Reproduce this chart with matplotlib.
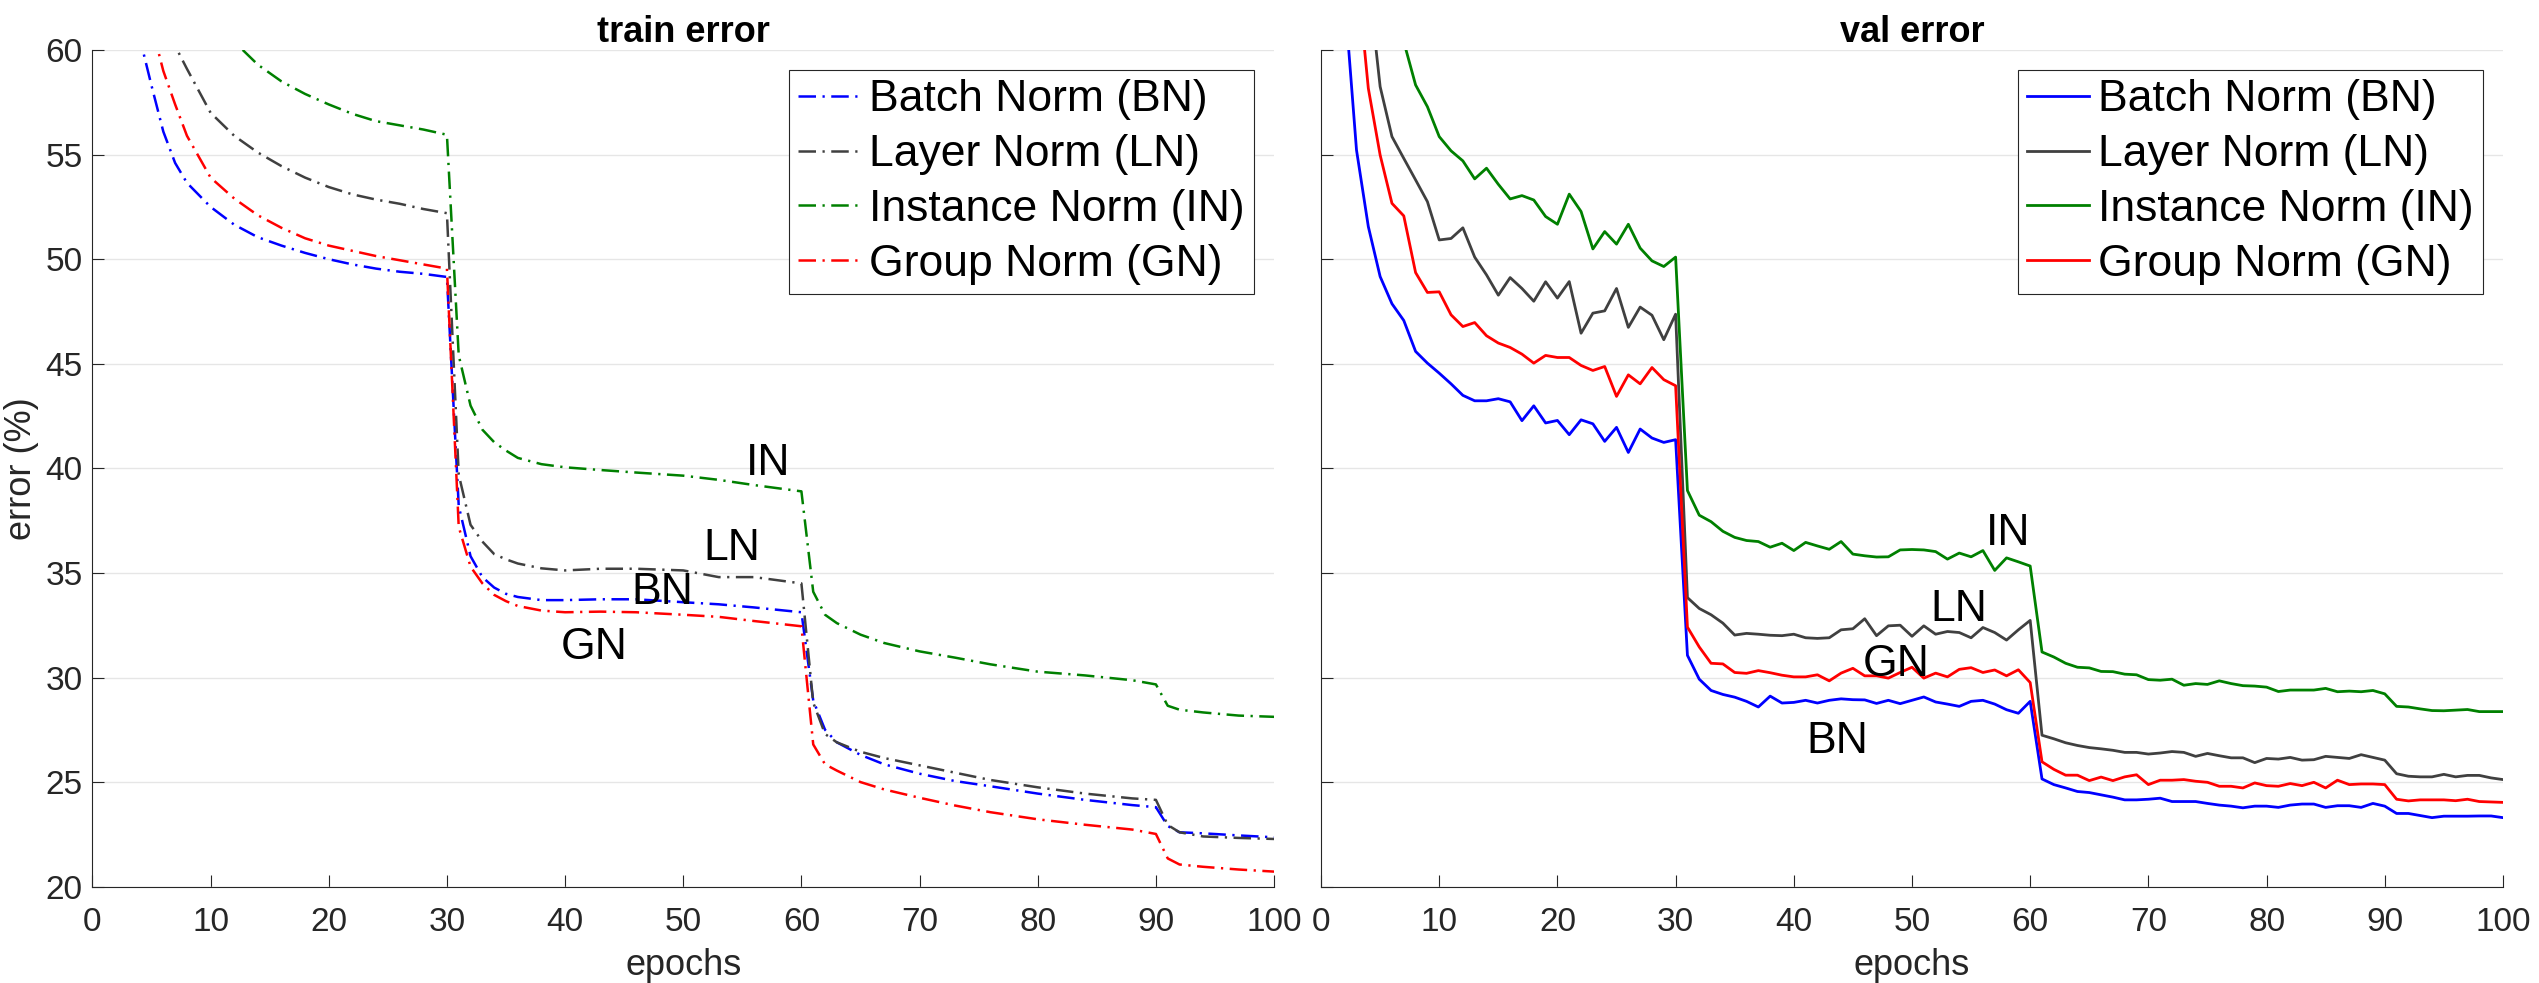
import matplotlib.pyplot as plt

plt.rcParams['font.family'] = ['Liberation Sans', 'DejaVu Sans']

names = ['Batch Norm (BN)', 'Layer Norm (LN)', 'Instance Norm (IN)', 'Group Norm (GN)']
colors = ['#0000ff', '#404040', '#008000', '#ff0000']

# train error at these epochs
train_epochs = [1, 2, 3, 4, 5, 6, 7, 8, 10, 12, 14, 16, 18, 20, 22, 24, 26, 28, 30,
                31, 32, 33, 34, 35, 36, 38, 40, 43, 46, 50, 53, 56, 60,
                61, 62, 63, 65, 67, 70, 73, 76, 80, 84, 88, 90, 91, 92, 94, 97, 100]
train_bn = [74, 68, 63.5, 60.6, 58.3, 56.1, 54.6, 53.65, 52.5, 51.65, 51.05, 50.65, 50.3, 50.0,
            49.75, 49.55, 49.4, 49.3, 49.15,
            38.2, 35.8, 34.8, 34.3, 34.0, 33.85, 33.7, 33.7, 33.74, 33.74, 33.6, 33.5, 33.35, 33.12,
            28.9, 27.5, 26.9, 26.3, 25.85, 25.4, 25.05, 24.8, 24.45, 24.15, 23.9, 23.8,
            22.9, 22.6, 22.55, 22.45, 22.36]
train_ln = [80, 75, 70.5, 67, 64.5, 62, 60.2, 59.1, 57.0, 55.9, 55.1, 54.45, 53.9, 53.45,
            53.1, 52.85, 52.65, 52.4, 52.2,
            39.7, 37.3, 36.5, 35.9, 35.65, 35.45, 35.22, 35.12, 35.2, 35.2, 35.12, 34.8, 34.8, 34.5,
            28.8, 27.3, 26.9, 26.45, 26.15, 25.8, 25.45, 25.1, 24.75, 24.45, 24.22, 24.15,
            22.95, 22.6, 22.4, 22.33, 22.28]
train_in = [85, 80, 76, 72.5, 69.5, 67, 65, 63.5, 61.8, 60.4, 59.3, 58.5, 57.9, 57.4,
            56.95, 56.6, 56.4, 56.2, 55.95,
            45.4, 43.0, 41.85, 41.25, 40.85, 40.5, 40.2, 40.05, 39.92, 39.8, 39.65, 39.45, 39.2, 38.9,
            34.1, 33.0, 32.6, 32.05, 31.65, 31.25, 30.95, 30.63, 30.28, 30.1, 29.87, 29.67,
            28.65, 28.46, 28.33, 28.18, 28.12]
train_gn = [76, 71, 67, 63.5, 61.2, 59.0, 57.4, 55.9, 53.9, 52.9, 52.1, 51.5, 51.0, 50.65,
            50.4, 50.15, 49.95, 49.75, 49.55,
            37.2, 35.3, 34.5, 33.95, 33.65, 33.42, 33.2, 33.12, 33.15, 33.12, 33.0, 32.9, 32.7, 32.45,
            26.8, 25.85, 25.55, 25.0, 24.65, 24.25, 23.88, 23.56, 23.22, 22.96, 22.73, 22.52,
            21.35, 21.06, 20.95, 20.82, 20.72]

# val error, one point per epoch
val_epochs = list(range(1, 101))
val_bn = [72, 62.5, 55.22, 51.56, 49.17, 47.87, 47.07, 45.59, 45.03, 44.55,
          44.04, 43.49, 43.23, 43.23, 43.33, 43.18, 42.28, 42.99, 42.17, 42.29,
          41.61, 42.32, 42.13, 41.29, 41.96, 40.76, 41.88, 41.45, 41.24, 41.37,
          31.06, 29.92, 29.38, 29.19, 29.06, 28.86, 28.59, 29.11, 28.78, 28.81,
          28.91, 28.78, 28.91, 28.98, 28.94, 28.93, 28.76, 28.91, 28.75, 28.91,
          29.07, 28.83, 28.73, 28.62, 28.86, 28.91, 28.73, 28.46, 28.29, 28.86,
          25.15, 24.88, 24.72, 24.55, 24.5, 24.39, 24.28, 24.15, 24.15, 24.18,
          24.23, 24.07, 24.07, 24.07, 23.98, 23.9, 23.85, 23.77, 23.85, 23.85,
          23.79, 23.9, 23.95, 23.95, 23.79, 23.87, 23.87, 23.79, 23.98, 23.85,
          23.5, 23.5, 23.4, 23.3, 23.37, 23.37, 23.37, 23.38, 23.38, 23.3]
val_ln = [78, 73, 68, 63.4, 58.25, 55.86, 54.82, 53.79, 52.75, 50.92,
          50.99, 51.5, 50.1, 49.25, 48.28, 49.12, 48.6, 47.99, 48.92, 48.14,
          48.93, 46.46, 47.42, 47.53, 48.6, 46.74, 47.71, 47.32, 46.15, 47.37,
          33.82, 33.3, 33.0, 32.6, 32.03, 32.11, 32.07, 32.02, 32.0, 32.07,
          31.9, 31.87, 31.9, 32.28, 32.33, 32.81, 32.0, 32.47, 32.5, 31.97,
          32.47, 32.07, 32.2, 32.15, 31.9, 32.39, 32.15, 31.79, 32.28, 32.73,
          27.24, 27.07, 26.88, 26.75, 26.65, 26.59, 26.52, 26.42, 26.42, 26.34,
          26.39, 26.46, 26.42, 26.23, 26.37, 26.26, 26.16, 26.16, 25.93, 26.13,
          26.1, 26.18, 26.05, 26.07, 26.23, 26.18, 26.13, 26.31, 26.18, 26.05,
          25.4, 25.28, 25.25, 25.25, 25.37, 25.25, 25.32, 25.32, 25.2, 25.12]
val_in = [83, 78, 74, 70, 66.5, 63, 60.4, 58.33, 57.29, 55.86,
          55.18, 54.7, 53.84, 54.35, 53.58, 52.88, 53.04, 52.83, 52.04, 51.67,
          53.11, 52.28, 50.49, 51.32, 50.72, 51.67, 50.53, 49.92, 49.65, 50.1,
          38.94, 37.76, 37.45, 36.99, 36.7, 36.55, 36.5, 36.23, 36.42, 36.07,
          36.46, 36.29, 36.13, 36.5, 35.9, 35.82, 35.76, 35.77, 36.1, 36.12,
          36.1, 36.02, 35.66, 35.95, 35.77, 36.07, 35.12, 35.72, 35.53, 35.33,
          31.22, 30.98, 30.68, 30.49, 30.46, 30.29, 30.28, 30.16, 30.13, 29.9,
          29.87, 29.92, 29.63, 29.71, 29.67, 29.84, 29.71, 29.61, 29.59, 29.54,
          29.33, 29.4, 29.4, 29.4, 29.48, 29.32, 29.35, 29.32, 29.38, 29.22,
          28.62, 28.59, 28.5, 28.42, 28.41, 28.44, 28.47, 28.37, 28.37, 28.37]
val_gn = [76, 70, 64, 58.17, 54.98, 52.67, 52.07, 49.36, 48.41, 48.44,
          47.34, 46.78, 46.97, 46.34, 45.99, 45.78, 45.46, 45.03, 45.4, 45.3,
          45.3, 44.92, 44.68, 44.87, 43.44, 44.47, 44.04, 44.82, 44.24, 43.95,
          32.41, 31.46, 30.68, 30.65, 30.24, 30.2, 30.33, 30.23, 30.11, 30.03,
          30.03, 30.13, 29.84, 30.21, 30.44, 30.08, 30.08, 29.97, 30.24, 30.49,
          29.97, 30.21, 30.03, 30.39, 30.47, 30.24, 30.36, 30.08, 30.37, 29.76,
          25.97, 25.61, 25.33, 25.33, 25.07, 25.24, 25.07, 25.25, 25.35, 24.88,
          25.09, 25.09, 25.12, 25.04, 24.99, 24.8, 24.8, 24.72, 24.96, 24.83,
          24.8, 24.93, 24.83, 24.99, 24.72, 25.09, 24.88, 24.91, 24.91, 24.88,
          24.18, 24.1, 24.15, 24.15, 24.15, 24.11, 24.18, 24.07, 24.05, 24.03]

# curve labels written inside the plots (epoch, error at baseline)
train_tags = {'IN': (57.2, 39.68), 'LN': (54.1, 35.6), 'BN': (48.2, 33.5), 'GN': (42.5, 30.89)}
val_tags = {'IN': (58.1, 36.34), 'LN': (54.0, 32.68), 'GN': (48.7, 30.08), 'BN': (43.7, 26.37)}

dark = '#262626'
fig = plt.figure(figsize=(25.39, 9.83), dpi=100)
ax1 = fig.add_axes([0.0364, 0.098, 0.4654, 0.8511])
ax2 = fig.add_axes([0.5203, 0.098, 0.4655, 0.8511])

dashdot = (0, (7, 2.6, 0.9, 2.6))
for ys, c, n in zip([train_bn, train_ln, train_in, train_gn], colors, names):
    ax1.plot(train_epochs, ys, color=c, lw=1.8, linestyle=dashdot, label=n)
for ys, c, n in zip([val_bn, val_ln, val_in, val_gn], colors, names):
    ax2.plot(val_epochs, ys, color=c, lw=2.0, label=n)

for ax, title, tags in [(ax1, 'train error', train_tags), (ax2, 'val error', val_tags)]:
    ax.set_xlim(0, 100)
    ax.set_ylim(20, 60)
    ax.set_xticks(range(0, 101, 10))
    ax.set_yticks(range(20, 61, 5))
    ax.grid(axis='y', color='#e6e6e6', lw=1.0)
    ax.set_axisbelow(True)
    for s in ['top', 'right']:
        ax.spines[s].set_visible(False)
    for s in ['left', 'bottom']:
        ax.spines[s].set_color(dark)
        ax.spines[s].set_linewidth(0.8)
    ax.tick_params(axis='both', direction='in', length=8.6, width=0.8, color=dark,
                   labelcolor=dark, labelsize=24)
    ax.tick_params(axis='x', pad=15)
    ax.tick_params(axis='y', pad=7)
    ax.set_title(title, fontsize=26, fontweight='bold', pad=5)
    ax.set_xlabel('epochs', fontsize=26, color=dark, labelpad=7)
    for t, (x, y) in tags.items():
        ax.text(x, y, t, fontsize=32, ha='center', va='baseline', color='black')
    leg = ax.legend(loc='upper right', fontsize=32, frameon=True, fancybox=False,
                    framealpha=1, edgecolor=dark, borderaxespad=0.46, borderpad=0.2,
                    labelspacing=0.31, handlelength=1.4, handletextpad=0.2)
    leg.get_frame().set_linewidth(0.8)

ax1.set_ylabel('error (%)', fontsize=26, color=dark, labelpad=5)
ax2.tick_params(axis='y', labelleft=False)

fig.savefig('out.png', dpi=100)
